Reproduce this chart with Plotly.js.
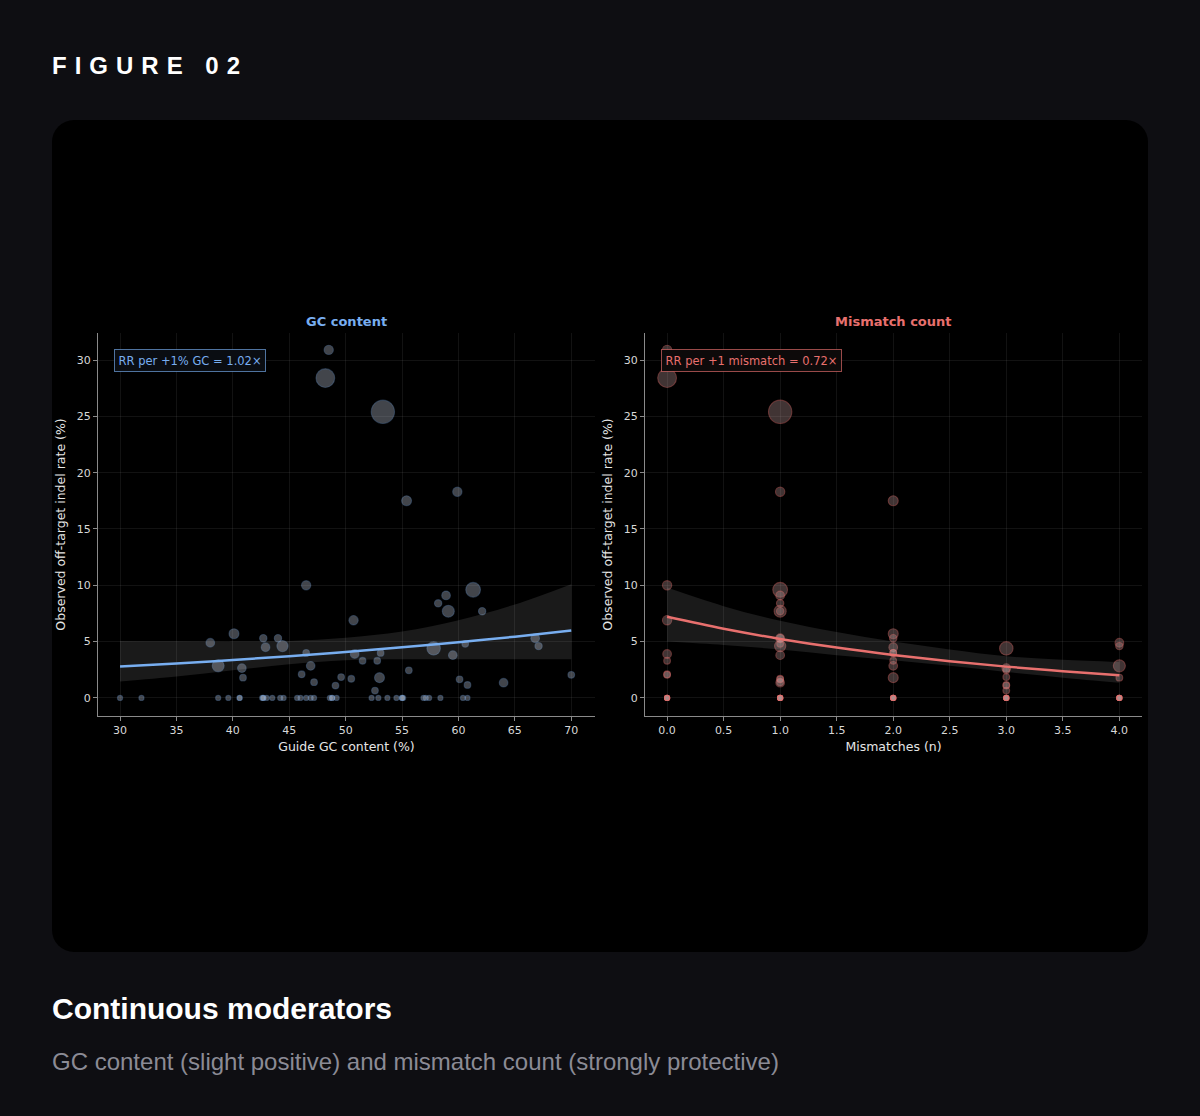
<!DOCTYPE html>
<html>
<head>
<meta charset="utf-8">
<script src="https://cdn.plot.ly/plotly-3.0.1.min.js"></script>
<style>
  html, body { margin: 0; padding: 0; }
  body {
    width: 1200px; height: 1116px; background: #0e0e12;
    font-family: "Liberation Sans", Arial, sans-serif; position: relative; overflow: hidden;
  }
  .kicker {
    position: absolute; left: 52px; top: 52px; margin: 0;
    color: #fff; font-size: 24px; font-weight: bold; letter-spacing: 8px;
  }
  .card {
    position: absolute; left: 52px; top: 120px; width: 1096px; height: 832px;
    background: #000; border-radius: 22px; overflow: hidden;
  }
  #chart { width: 1096px; height: 832px; }
  .title {
    position: absolute; left: 52px; top: 992px; margin: 0;
    color: #fff; font-size: 30px; font-weight: bold;
  }
  .sub {
    position: absolute; left: 52px; top: 1048px; margin: 0;
    color: #8b8b95; font-size: 24px;
  }
</style>
</head>
<body>
<div class="kicker">FIGURE 02</div>
<div class="card"><div id="chart"></div></div>
<div class="title">Continuous moderators</div>
<div class="sub">GC content (slight positive) and mismatch count (strongly protective)</div>

<script>
// one entry per guide: GC %, mismatch count, observed rate %, read depth (bubble size)
var gcContent = [48.5, 48.2, 53.3, 55.4, 59.9, 46.5, 61.3, 58.9, 58.2, 59.1, 62.1, 50.7, 40.1, 38.0, 42.7,
  44.0, 42.9, 44.4, 46.5, 57.8, 60.6, 66.8, 67.1, 50.8, 53.1, 59.5, 38.7, 40.8, 46.9, 51.5,
  52.8, 40.9, 46.1, 47.2, 49.6, 50.5, 49.1, 53.0, 52.6, 55.6, 60.1, 60.8, 64.0, 70.0,
  30.0, 31.9, 38.7, 39.6, 40.6, 40.6, 42.6, 42.7, 42.7, 43.0, 43.5, 44.2, 44.5, 45.7, 46.0,
  46.5, 46.9, 47.2, 48.6, 48.8, 48.8, 49.2, 52.3, 52.9, 53.7, 54.5, 55.0, 55.0, 55.1, 56.9,
  57.1, 57.4, 58.4, 60.4, 60.8];
var mismatches = [0, 0, 1, 2, 1, 0, 1, 1, 1, 1, 1, 0, 2, 4, 1,
  2, 2, 1, 2, 3, 1, 1, 4, 0, 2, 1, 4, 3, 2, 0,
  2, 4, 0, 1, 3, 1, 3, 2, 3, 3, 1, 3, 1, 0,
  2, 4, 1, 3, 0, 1, 2, 3, 4, 0, 1, 2, 4, 3, 0,
  1, 2, 3, 4, 0, 1, 2, 3, 4, 0, 1, 2, 3, 4, 0,
  1, 2, 3, 4, 1];
var indelRate = [30.9, 28.4, 25.4, 17.5, 18.3, 10.0, 9.6, 9.1, 8.4, 7.7, 7.7, 6.9, 5.7, 4.9, 5.3,
  5.3, 4.5, 4.6, 4.0, 4.4, 4.8, 5.3, 4.6, 3.9, 4.0, 3.8, 2.85, 2.65, 2.85, 3.3,
  3.3, 1.8, 2.1, 1.4, 1.85, 1.7, 1.1, 1.8, 0.65, 2.45, 1.65, 1.15, 1.35, 2.05,
  0, 0, 0, 0, 0, 0, 0, 0, 0, 0, 0, 0, 0, 0, 0,
  0, 0, 0, 0, 0, 0, 0, 0, 0, 0, 0, 0, 0, 0, 0,
  0, 0, 0, 0, 0];
var readDepth = [96, 390, 600, 110, 96, 96, 240, 83, 60, 160, 60, 96, 110, 83, 60,
  60, 83, 140, 50, 200, 50, 83, 60, 83, 50, 83, 160, 83, 83, 50,
  50, 50, 50, 50, 50, 50, 50, 110, 50, 50, 50, 50, 83, 50,
  30, 30, 30, 30, 30, 30, 30, 30, 30, 30, 30, 30, 30, 30, 30,
  30, 30, 30, 30, 30, 30, 30, 30, 30, 30, 30, 30, 30, 30, 30,
  30, 30, 30, 30, 30];

// Poisson fit + 95% band
var gcGrid  = [30, 35, 40, 45, 50, 55, 60, 65, 70];
var gcFit   = [2.78, 3.06, 3.37, 3.71, 4.08, 4.49, 4.94, 5.44, 5.98];
var gcUpper = [5.06, 5.03, 5.0, 5.05, 5.35, 5.9, 6.9, 8.3, 10.1];
var gcLower = [1.45, 1.9, 2.45, 3.0, 3.35, 3.43, 3.43, 3.43, 3.43];

var mmGrid  = [0, 0.5, 1, 1.5, 2, 2.5, 3, 3.5, 4];
var mmFit   = [7.2, 6.14, 5.24, 4.47, 3.82, 3.26, 2.78, 2.37, 2.02];
var mmUpper = [9.8, 8.15, 6.85, 5.85, 5.0, 4.3, 3.7, 3.4, 3.2];
var mmLower = [5.0, 4.7, 4.3, 3.8, 3.35, 2.85, 2.3, 1.8, 1.35];

var blue = '#78aef0';
var red = '#e8706e';
var font = 'DejaVu Sans, sans-serif';

function scatter(x, xa, ya, fill, edge) {
  return {
    x: x, y: indelRate, xaxis: xa, yaxis: ya,
    type: 'scatter', mode: 'markers', hoverinfo: 'skip', showlegend: false,
    marker: {
      size: readDepth, sizemode: 'area', sizeref: 2.2,
      color: fill, line: { color: edge, width: 1.1 }
    }
  };
}

function band(grid, lo, hi, xa, ya) {
  return [
    { x: grid, y: lo, xaxis: xa, yaxis: ya, type: 'scatter', mode: 'lines',
      line: { width: 0, shape: 'spline' }, hoverinfo: 'skip', showlegend: false },
    { x: grid, y: hi, xaxis: xa, yaxis: ya, type: 'scatter', mode: 'lines',
      line: { width: 0, shape: 'spline' }, fill: 'tonexty',
      fillcolor: 'rgba(255,255,255,0.10)', hoverinfo: 'skip', showlegend: false }
  ];
}

function fitLine(grid, fit, color, xa, ya) {
  return { x: grid, y: fit, xaxis: xa, yaxis: ya, type: 'scatter', mode: 'lines',
    line: { color: color, width: 2.5, shape: 'spline' }, hoverinfo: 'skip', showlegend: false };
}

var data = [].concat(
  scatter(gcContent, 'x', 'y', 'rgba(180,190,208,0.52)', 'rgba(120,174,240,0.38)'),
  band(gcGrid, gcLower, gcUpper, 'x', 'y'),
  fitLine(gcGrid, gcFit, blue, 'x', 'y'),
  scatter(mismatches, 'x2', 'y2', 'rgba(185,150,150,0.5)', 'rgba(232,112,110,0.55)'),
  band(mmGrid, mmLower, mmUpper, 'x2', 'y2'),
  fitLine(mmGrid, mmFit, red, 'x2', 'y2')
);

var tickFont = { family: font, size: 11, color: '#d8d8d8' };
var titleFont = { family: font, size: 12.5, color: '#e6e6e6' };

function xAxis(dom, range, dtick, fmt, title) {
  return {
    domain: dom, range: range, dtick: dtick, tickformat: fmt,
    showline: true, linecolor: '#8a8a8a', linewidth: 1, mirror: false,
    ticks: 'outside', ticklen: 4, tickcolor: '#8a8a8a',
    showgrid: true, gridcolor: 'rgba(255,255,255,0.07)', zeroline: false,
    tickfont: tickFont, title: { text: title, font: titleFont, standoff: 6 }
  };
}
function yAxis(anchor) {
  return {
    domain: [0.2837, 0.744], range: [-1.6, 32.4], dtick: 5, anchor: anchor,
    showline: true, linecolor: '#8a8a8a', linewidth: 1, mirror: false,
    ticks: 'outside', ticklen: 4, tickcolor: '#8a8a8a',
    showgrid: true, gridcolor: 'rgba(255,255,255,0.07)', zeroline: false,
    tickfont: tickFont, title: { text: 'Observed off-target indel rate (%)', font: titleFont, standoff: 8 }
  };
}

var layout = {
  width: 1096, height: 832,
  margin: { l: 0, r: 0, t: 0, b: 0 },
  paper_bgcolor: 'rgba(0,0,0,0)', plot_bgcolor: 'rgba(0,0,0,0)',
  xaxis: xAxis([0.042, 0.4954], [28.05, 72.1], 5, '', 'Guide GC content (%)'),
  yaxis: yAxis('x'),
  xaxis2: xAxis([0.5411, 0.9945], [-0.195, 4.2], 0.5, '.1f', 'Mismatches (n)'),
  yaxis2: yAxis('x2'),
  annotations: [
    { text: '<b>GC content</b>', xref: 'x domain', yref: 'y domain', x: 0.5, y: 1.031,
      yanchor: 'middle', showarrow: false, font: { family: font, size: 13, color: blue } },
    { text: '<b>Mismatch count</b>', xref: 'x2 domain', yref: 'y2 domain', x: 0.5, y: 1.031,
      yanchor: 'middle', showarrow: false, font: { family: font, size: 13, color: red } },
    { text: 'RR per +1% GC = 1.02×', xref: 'x domain', yref: 'y domain', x: 0.032, y: 0.927,
      xanchor: 'left', yanchor: 'middle', showarrow: false,
      font: { family: font, size: 11.5, color: blue },
      bgcolor: '#0a0d12', bordercolor: 'rgba(120,174,240,0.65)', borderwidth: 1, borderpad: 3.5 },
    { text: 'RR per +1 mismatch = 0.72×', xref: 'x2 domain', yref: 'y2 domain', x: 0.032, y: 0.927,
      xanchor: 'left', yanchor: 'middle', showarrow: false,
      font: { family: font, size: 11.5, color: red },
      bgcolor: '#0d0a0a', bordercolor: 'rgba(232,112,110,0.65)', borderwidth: 1, borderpad: 3.5 }
  ]
};

Plotly.newPlot('chart', data, layout, { displayModeBar: false, staticPlot: true });
</script>
</body>
</html>
